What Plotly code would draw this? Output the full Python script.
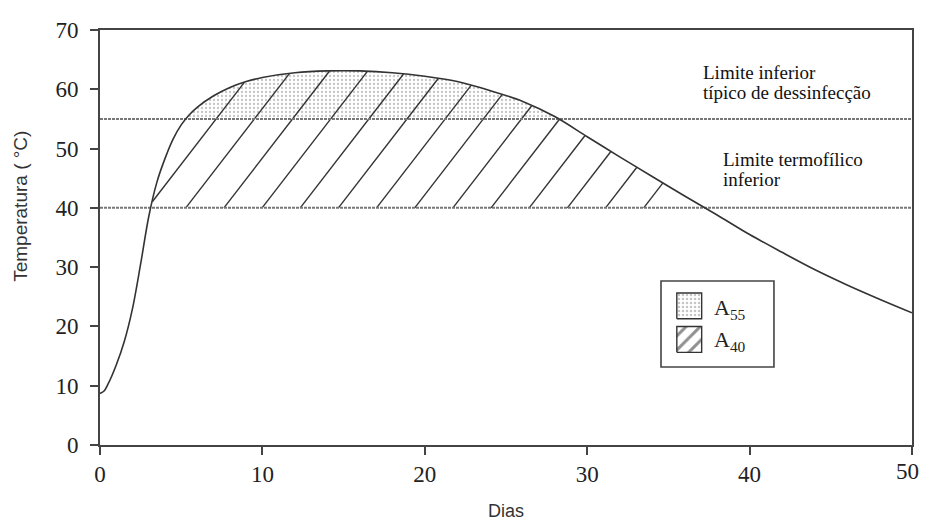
import numpy as np
import plotly.graph_objects as go

# ---- data ----
DAYS = [0, 0.25, 0.5, 1, 1.5, 2, 2.5, 3, 3.5, 4, 4.5, 5, 5.5, 6, 7, 8, 9, 10, 12, 14, 16, 18,
        20, 22, 24, 26, 28, 30, 32, 34, 36, 38, 40, 42, 44, 46, 48, 50]
TEMP = [8.7, 9.1, 10.3, 13.5, 17.5, 23.0, 30.5, 38.5, 44.3, 48.3, 51.6, 54.0, 55.7, 57.0,
        58.9, 60.3, 61.3, 62.0, 62.8, 63.1, 63.1, 62.8, 62.2, 61.3, 59.8, 58.0, 55.4, 52.0,
        48.6, 45.3, 42.0, 38.8, 35.5, 32.5, 29.6, 27.0, 24.6, 22.3]
LIMIT_DISINFECTION = 55
LIMIT_THERMO = 40
X_TICKS = [0, 10, 20, 30, 40, 50]
Y_TICKS = [0, 10, 20, 30, 40, 50, 60, 70]

# ---- style constants ----
HATCH_SLOPE = 3.55       # degC per day
HATCH_FIRST = 2.93
HATCH_STEP = 2.35
HATCH_LAST = 34.0
INK = "#333333"
SERIF = "Liberation Serif, Times New Roman, serif"
SANS = "Liberation Sans, Arial, sans-serif"

d_arr = np.array(DAYS, dtype=float)
t_arr = np.array(TEMP, dtype=float)

fig = go.Figure()

# ---- stippled area A55 (curve above 55) ----
def crossings(level):
    xs = []
    for i in range(len(d_arr) - 1):
        a, b = t_arr[i] - level, t_arr[i + 1] - level
        if a == 0:
            xs.append(d_arr[i])
        elif a * b < 0:
            xs.append(d_arr[i] + (d_arr[i + 1] - d_arr[i]) * (-a) / (b - a))
    return xs

c55 = crossings(LIMIT_DISINFECTION)
x1, x2 = c55[0], c55[1]
inside = (d_arr > x1) & (d_arr < x2)
px = [x1] + list(d_arr[inside]) + [x2]
py = [LIMIT_DISINFECTION] + list(t_arr[inside]) + [LIMIT_DISINFECTION]
fig.add_trace(go.Scatter(
    x=px, y=py, mode="lines", fill="toself", line=dict(width=0, shape="spline", smoothing=0.9),
    fillcolor="rgba(255,255,255,0)",
    fillpattern=dict(shape=".", size=4, solidity=0.25, fgcolor="#8a8a8a", bgcolor="white"),
    hoverinfo="skip", showlegend=False, xaxis="x", yaxis="y"))

# ---- hatch lines A40 ----
hx, hy = [], []
for d0 in np.arange(HATCH_FIRST, HATCH_LAST, HATCH_STEP):
    grid = np.linspace(d0, 50, 6000)
    L = LIMIT_THERMO + HATCH_SLOPE * (grid - d0)
    C = np.interp(grid, d_arr, t_arr)
    above = C >= L
    idx = np.where(above)[0]
    if len(idx) == 0:
        continue
    i0 = idx[0]
    rest = np.where(~above[i0:])[0]
    i1 = i0 + (rest[0] - 1 if len(rest) else len(grid) - 1 - i0)
    hx += [grid[i0], grid[i1], None]
    hy += [L[i0], L[i1], None]
fig.add_trace(go.Scatter(x=hx, y=hy, mode="lines", line=dict(color=INK, width=1.4),
                         hoverinfo="skip", showlegend=False))

# ---- horizontal limit lines ----
for lvl in (LIMIT_DISINFECTION, LIMIT_THERMO):
    fig.add_trace(go.Scatter(x=[0, 50], y=[lvl, lvl], mode="lines",
                             line=dict(color="#777777", width=2, dash="3px,1px"),
                             hoverinfo="skip", showlegend=False))

# ---- temperature curve ----
fig.add_trace(go.Scatter(x=DAYS, y=TEMP, mode="lines",
                         line=dict(color=INK, width=1.6, shape="spline", smoothing=0.9),
                         showlegend=False))

# ---- legend (inset axes) ----
fig.add_trace(go.Scatter(
    x=[0.14, 0.36, 0.36, 0.14, 0.14], y=[0.56, 0.56, 0.86, 0.86, 0.56], mode="lines",
    fill="toself", line=dict(color=INK, width=1.4), fillcolor="rgba(255,255,255,0)",
    fillpattern=dict(shape=".", size=4, solidity=0.3, fgcolor="#8a8a8a", bgcolor="white"),
    xaxis="x2", yaxis="y2", hoverinfo="skip", showlegend=False))
fig.add_trace(go.Scatter(
    x=[0.14, 0.36, 0.36, 0.14, 0.14], y=[0.17, 0.17, 0.47, 0.47, 0.17], mode="lines",
    fill="toself", line=dict(color=INK, width=1.4), fillcolor="rgba(255,255,255,0)",
    fillpattern=dict(shape="/", size=10, solidity=0.3, fgcolor="#222222", bgcolor="white"),
    xaxis="x2", yaxis="y2", hoverinfo="skip", showlegend=False))

LEG_X = [0.6909, 0.8300]
LEG_Y = [0.1880, 0.3952]

fig.add_shape(type="rect", xref="paper", yref="paper",
              x0=LEG_X[0], x1=LEG_X[1], y0=LEG_Y[0], y1=LEG_Y[1],
              line=dict(color="#444444", width=1.6), layer="above")

tick_font = dict(family=SERIF, size=23, color="#222")
note_font = dict(family=SERIF, size=19, color="#111")
# last x tick label drawn as an annotation nudged inward so the page edge does not clip it
x_ticktext = [str(v) for v in X_TICKS[:-1]] + [""]
annotations = [
    dict(x=X_TICKS[-1], y=0, xref="x", yref="y", text=str(X_TICKS[-1]), showarrow=False,
         xanchor="center", yanchor="top", xshift=-5, yshift=-12, font=tick_font),
    dict(x=0.45, y=0.68, xref="x2", yref="y2", text="A<sub>55</sub>", showarrow=False,
         xanchor="left", yanchor="middle", font=dict(family=SERIF, size=22, color="#222")),
    dict(x=0.45, y=0.30, xref="x2", yref="y2", text="A<sub>40</sub>", showarrow=False,
         xanchor="left", yanchor="middle", font=dict(family=SERIF, size=22, color="#222")),
    dict(x=37.0, y=62.9, xref="x", yref="y", text="Limite inferior",
         showarrow=False, xanchor="left", yanchor="middle", font=note_font),
    dict(x=37.0, y=59.4, xref="x", yref="y", text="típico de dessinfecção",
         showarrow=False, xanchor="left", yanchor="middle", font=note_font),
    dict(x=38.25, y=48.2, xref="x", yref="y", text="Limite termofílico",
         showarrow=False, xanchor="left", yanchor="middle", font=note_font),
    dict(x=38.25, y=44.7, xref="x", yref="y", text="inferior",
         showarrow=False, xanchor="left", yanchor="middle", font=note_font),
    dict(x=-0.098, y=0.575, xref="paper", yref="paper", text="Temperatura ( °C)",
         textangle=-90, showarrow=False, xanchor="center", yanchor="middle",
         font=dict(family=SANS, size=19, color="#333")),
    dict(x=0.5, y=-0.16, xref="paper", yref="paper", text="Dias",
         showarrow=False, xanchor="center", yanchor="middle",
         font=dict(family=SANS, size=18, color="#333")),
]

# page body has an 8px margin; keep the page from scrolling
fig.update_layout(
    width=921, height=513,
    margin=dict(l=92, r=17, t=22, b=76, autoexpand=False),
    paper_bgcolor="white", plot_bgcolor="white",
    showlegend=False,
    annotations=annotations,
    xaxis=dict(range=[0, 50], tickvals=X_TICKS, ticktext=x_ticktext, ticks="outside",
               ticklen=8, tickwidth=1.5,
               tickcolor="#444", showline=True, linecolor="#444", linewidth=1.6, mirror=True,
               showgrid=False, zeroline=False, ticklabelstandoff=0, automargin=False,
               tickfont=tick_font),
    yaxis=dict(range=[0, 70], tickvals=Y_TICKS, ticks="outside", ticklen=8, tickwidth=1.5,
               tickcolor="#444", showline=True, linecolor="#444", linewidth=1.6, mirror=True,
               showgrid=False, zeroline=False, ticklabelstandoff=7, automargin=False,
               tickfont=tick_font),
    xaxis2=dict(domain=LEG_X, range=[0, 1], visible=False, anchor="y2", fixedrange=True),
    yaxis2=dict(domain=LEG_Y, range=[0, 1], visible=False, anchor="x2", fixedrange=True),
)

fig.write_html("out.html")
